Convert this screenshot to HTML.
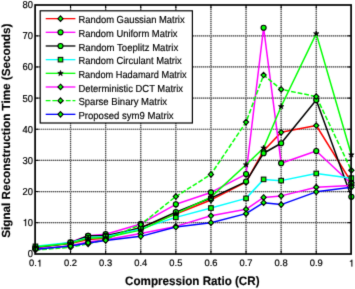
<!DOCTYPE html><html><head><meta charset="utf-8"><style>html,body{margin:0;padding:0;background:#fff;width:355px;height:289px;overflow:hidden}</style></head><body><svg xmlns="http://www.w3.org/2000/svg" width="355" height="289" viewBox="0 0 355 289" style="position:absolute;left:0;top:0">
<defs><filter id="bl" x="0" y="0" width="355" height="289" color-interpolation-filters="sRGB" filterUnits="userSpaceOnUse"><feConvolveMatrix order="3" kernelMatrix="0.0183 0.1353 0.0183 0.1353 1 0.1353 0.0183 0.1353 0.0183" edgeMode="duplicate" preserveAlpha="true"/></filter></defs>
<g filter="url(#bl)">
<rect width="355" height="289" fill="#fff"/>
<style>text{stroke:#000;stroke-width:0.15px;text-rendering:geometricPrecision}.tk{stroke-width:0.2px}</style>
<line x1="70.55" y1="5.0" x2="70.55" y2="254.0" stroke="#b0b0b0" stroke-width="1.2"/>
<line x1="70.55" y1="5.0" x2="70.55" y2="254.0" stroke="#4a4a4a" stroke-width="1.2" stroke-dasharray="1 1"/>
<line x1="105.65" y1="5.0" x2="105.65" y2="254.0" stroke="#b0b0b0" stroke-width="1.2"/>
<line x1="105.65" y1="5.0" x2="105.65" y2="254.0" stroke="#4a4a4a" stroke-width="1.2" stroke-dasharray="1 1"/>
<line x1="140.75" y1="5.0" x2="140.75" y2="254.0" stroke="#b0b0b0" stroke-width="1.2"/>
<line x1="140.75" y1="5.0" x2="140.75" y2="254.0" stroke="#4a4a4a" stroke-width="1.2" stroke-dasharray="1 1"/>
<line x1="175.85" y1="5.0" x2="175.85" y2="254.0" stroke="#b0b0b0" stroke-width="1.2"/>
<line x1="175.85" y1="5.0" x2="175.85" y2="254.0" stroke="#4a4a4a" stroke-width="1.2" stroke-dasharray="1 1"/>
<line x1="210.95" y1="5.0" x2="210.95" y2="254.0" stroke="#b0b0b0" stroke-width="1.2"/>
<line x1="210.95" y1="5.0" x2="210.95" y2="254.0" stroke="#4a4a4a" stroke-width="1.2" stroke-dasharray="1 1"/>
<line x1="246.05" y1="5.0" x2="246.05" y2="254.0" stroke="#b0b0b0" stroke-width="1.2"/>
<line x1="246.05" y1="5.0" x2="246.05" y2="254.0" stroke="#4a4a4a" stroke-width="1.2" stroke-dasharray="1 1"/>
<line x1="281.15" y1="5.0" x2="281.15" y2="254.0" stroke="#b0b0b0" stroke-width="1.2"/>
<line x1="281.15" y1="5.0" x2="281.15" y2="254.0" stroke="#4a4a4a" stroke-width="1.2" stroke-dasharray="1 1"/>
<line x1="316.25" y1="5.0" x2="316.25" y2="254.0" stroke="#b0b0b0" stroke-width="1.2"/>
<line x1="316.25" y1="5.0" x2="316.25" y2="254.0" stroke="#4a4a4a" stroke-width="1.2" stroke-dasharray="1 1"/>
<line x1="35.1" y1="222.66" x2="351.1" y2="222.66" stroke="#b0b0b0" stroke-width="1.2"/>
<line x1="35.1" y1="222.66" x2="351.1" y2="222.66" stroke="#4a4a4a" stroke-width="1.2" stroke-dasharray="1 1"/>
<line x1="35.1" y1="191.53" x2="351.1" y2="191.53" stroke="#b0b0b0" stroke-width="1.2"/>
<line x1="35.1" y1="191.53" x2="351.1" y2="191.53" stroke="#4a4a4a" stroke-width="1.2" stroke-dasharray="1 1"/>
<line x1="35.1" y1="160.39" x2="351.1" y2="160.39" stroke="#b0b0b0" stroke-width="1.2"/>
<line x1="35.1" y1="160.39" x2="351.1" y2="160.39" stroke="#4a4a4a" stroke-width="1.2" stroke-dasharray="1 1"/>
<line x1="35.1" y1="129.25" x2="351.1" y2="129.25" stroke="#b0b0b0" stroke-width="1.2"/>
<line x1="35.1" y1="129.25" x2="351.1" y2="129.25" stroke="#4a4a4a" stroke-width="1.2" stroke-dasharray="1 1"/>
<line x1="35.1" y1="98.11" x2="351.1" y2="98.11" stroke="#b0b0b0" stroke-width="1.2"/>
<line x1="35.1" y1="98.11" x2="351.1" y2="98.11" stroke="#4a4a4a" stroke-width="1.2" stroke-dasharray="1 1"/>
<line x1="35.1" y1="66.97" x2="351.1" y2="66.97" stroke="#b0b0b0" stroke-width="1.2"/>
<line x1="35.1" y1="66.97" x2="351.1" y2="66.97" stroke="#4a4a4a" stroke-width="1.2" stroke-dasharray="1 1"/>
<line x1="35.1" y1="35.84" x2="351.1" y2="35.84" stroke="#b0b0b0" stroke-width="1.2"/>
<line x1="35.1" y1="35.84" x2="351.1" y2="35.84" stroke="#4a4a4a" stroke-width="1.2" stroke-dasharray="1 1"/>
<line x1="70.55" y1="254.0" x2="70.55" y2="250.5" stroke="#000" stroke-width="1"/>
<line x1="70.55" y1="5.0" x2="70.55" y2="8.5" stroke="#000" stroke-width="1"/>
<line x1="105.65" y1="254.0" x2="105.65" y2="250.5" stroke="#000" stroke-width="1"/>
<line x1="105.65" y1="5.0" x2="105.65" y2="8.5" stroke="#000" stroke-width="1"/>
<line x1="140.75" y1="254.0" x2="140.75" y2="250.5" stroke="#000" stroke-width="1"/>
<line x1="140.75" y1="5.0" x2="140.75" y2="8.5" stroke="#000" stroke-width="1"/>
<line x1="175.85" y1="254.0" x2="175.85" y2="250.5" stroke="#000" stroke-width="1"/>
<line x1="175.85" y1="5.0" x2="175.85" y2="8.5" stroke="#000" stroke-width="1"/>
<line x1="210.95" y1="254.0" x2="210.95" y2="250.5" stroke="#000" stroke-width="1"/>
<line x1="210.95" y1="5.0" x2="210.95" y2="8.5" stroke="#000" stroke-width="1"/>
<line x1="246.05" y1="254.0" x2="246.05" y2="250.5" stroke="#000" stroke-width="1"/>
<line x1="246.05" y1="5.0" x2="246.05" y2="8.5" stroke="#000" stroke-width="1"/>
<line x1="281.15" y1="254.0" x2="281.15" y2="250.5" stroke="#000" stroke-width="1"/>
<line x1="281.15" y1="5.0" x2="281.15" y2="8.5" stroke="#000" stroke-width="1"/>
<line x1="316.25" y1="254.0" x2="316.25" y2="250.5" stroke="#000" stroke-width="1"/>
<line x1="316.25" y1="5.0" x2="316.25" y2="8.5" stroke="#000" stroke-width="1"/>
<line x1="35.1" y1="222.66" x2="38.6" y2="222.66" stroke="#000" stroke-width="1"/>
<line x1="351.1" y1="222.66" x2="347.6" y2="222.66" stroke="#000" stroke-width="1"/>
<line x1="35.1" y1="191.53" x2="38.6" y2="191.53" stroke="#000" stroke-width="1"/>
<line x1="351.1" y1="191.53" x2="347.6" y2="191.53" stroke="#000" stroke-width="1"/>
<line x1="35.1" y1="160.39" x2="38.6" y2="160.39" stroke="#000" stroke-width="1"/>
<line x1="351.1" y1="160.39" x2="347.6" y2="160.39" stroke="#000" stroke-width="1"/>
<line x1="35.1" y1="129.25" x2="38.6" y2="129.25" stroke="#000" stroke-width="1"/>
<line x1="351.1" y1="129.25" x2="347.6" y2="129.25" stroke="#000" stroke-width="1"/>
<line x1="35.1" y1="98.11" x2="38.6" y2="98.11" stroke="#000" stroke-width="1"/>
<line x1="351.1" y1="98.11" x2="347.6" y2="98.11" stroke="#000" stroke-width="1"/>
<line x1="35.1" y1="66.97" x2="38.6" y2="66.97" stroke="#000" stroke-width="1"/>
<line x1="351.1" y1="66.97" x2="347.6" y2="66.97" stroke="#000" stroke-width="1"/>
<line x1="35.1" y1="35.84" x2="38.6" y2="35.84" stroke="#000" stroke-width="1"/>
<line x1="351.1" y1="35.84" x2="347.6" y2="35.84" stroke="#000" stroke-width="1"/>
<polyline points="35.45,247.57 70.55,243.52 88.10,239.48 105.65,238.23 140.75,227.33 175.85,213.94 210.95,199.93 246.05,182.18 263.60,150.73 281.15,132.36 316.25,125.51 351.35,182.18" fill="none" stroke="#ff0000" stroke-width="1.5" stroke-linejoin="round"/>
<polyline points="35.45,248.20 70.55,242.28 88.10,235.74 105.65,234.18 140.75,223.91 175.85,204.29 210.95,192.46 246.05,174.09 263.60,27.74 281.15,163.19 316.25,151.05 351.35,183.74" fill="none" stroke="#ff00ff" stroke-width="1.5" stroke-linejoin="round"/>
<polyline points="35.45,247.26 70.55,242.90 88.10,235.74 105.65,235.74 140.75,227.96 175.85,212.08 210.95,198.06 246.05,181.56 263.60,153.23 281.15,143.26 316.25,99.98 351.35,196.82" fill="none" stroke="#000000" stroke-width="1.5" stroke-linejoin="round"/>
<polyline points="35.45,246.33 70.55,242.59 88.10,237.61 105.65,236.67 140.75,228.89 175.85,217.37 210.95,208.03 246.05,198.38 263.60,179.38 281.15,180.63 316.25,173.47 351.35,178.14" fill="none" stroke="#00ffff" stroke-width="1.5" stroke-linejoin="round"/>
<polyline points="35.45,246.95 70.55,243.21 88.10,238.23 105.65,237.61 140.75,230.14 175.85,213.63 210.95,197.13 246.05,164.75 263.60,147.93 281.15,106.52 316.25,33.66 351.35,154.78" fill="none" stroke="#00ff00" stroke-width="1.5" stroke-linejoin="round"/>
<polyline points="35.45,249.44 70.55,245.70 88.10,241.97 105.65,239.79 140.75,233.56 175.85,226.40 210.95,215.81 246.05,209.27 263.60,197.44 281.15,195.88 316.25,187.17 351.35,185.61" fill="none" stroke="#ff00ff" stroke-width="1.5" stroke-linejoin="round"/>
<polyline points="35.45,250.06 70.55,247.26 88.10,243.84 105.65,239.48 140.75,224.53 175.85,196.51 210.95,174.40 246.05,122.09 263.60,75.07 281.15,89.39 316.25,96.56 351.35,170.35" fill="none" stroke="#00ff00" stroke-width="1.5" stroke-dasharray="4.8 1.9" stroke-linejoin="round"/>
<polyline points="35.45,249.13 70.55,246.02 88.10,242.90 105.65,240.41 140.75,236.36 175.85,227.02 210.95,222.66 246.05,213.63 263.60,202.73 281.15,204.60 316.25,191.84 351.35,187.17" fill="none" stroke="#0000ff" stroke-width="1.5" stroke-linejoin="round"/>
<path d="M35.45 244.82L38.06 247.57L35.45 250.32L32.84 247.57Z" fill="#00ff00" stroke="#000" stroke-width="1.1"/>
<path d="M70.55 240.77L73.16 243.52L70.55 246.27L67.94 243.52Z" fill="#00ff00" stroke="#000" stroke-width="1.1"/>
<path d="M88.10 236.73L90.71 239.48L88.10 242.23L85.49 239.48Z" fill="#00ff00" stroke="#000" stroke-width="1.1"/>
<path d="M105.65 235.48L108.26 238.23L105.65 240.98L103.04 238.23Z" fill="#00ff00" stroke="#000" stroke-width="1.1"/>
<path d="M140.75 224.58L143.36 227.33L140.75 230.08L138.14 227.33Z" fill="#00ff00" stroke="#000" stroke-width="1.1"/>
<path d="M175.85 211.19L178.46 213.94L175.85 216.69L173.24 213.94Z" fill="#00ff00" stroke="#000" stroke-width="1.1"/>
<path d="M210.95 197.18L213.56 199.93L210.95 202.68L208.34 199.93Z" fill="#00ff00" stroke="#000" stroke-width="1.1"/>
<path d="M246.05 179.43L248.66 182.18L246.05 184.93L243.44 182.18Z" fill="#00ff00" stroke="#000" stroke-width="1.1"/>
<path d="M263.60 147.98L266.21 150.73L263.60 153.48L260.99 150.73Z" fill="#00ff00" stroke="#000" stroke-width="1.1"/>
<path d="M281.15 129.61L283.76 132.36L281.15 135.11L278.54 132.36Z" fill="#00ff00" stroke="#000" stroke-width="1.1"/>
<path d="M316.25 122.76L318.86 125.51L316.25 128.26L313.64 125.51Z" fill="#00ff00" stroke="#000" stroke-width="1.1"/>
<path d="M351.35 179.43L353.96 182.18L351.35 184.93L348.74 182.18Z" fill="#00ff00" stroke="#000" stroke-width="1.1"/>
<circle cx="35.45" cy="248.20" r="2.55" fill="#00ff00" stroke="#000" stroke-width="1.1"/>
<circle cx="70.55" cy="242.28" r="2.55" fill="#00ff00" stroke="#000" stroke-width="1.1"/>
<circle cx="88.10" cy="235.74" r="2.55" fill="#00ff00" stroke="#000" stroke-width="1.1"/>
<circle cx="105.65" cy="234.18" r="2.55" fill="#00ff00" stroke="#000" stroke-width="1.1"/>
<circle cx="140.75" cy="223.91" r="2.55" fill="#00ff00" stroke="#000" stroke-width="1.1"/>
<circle cx="175.85" cy="204.29" r="2.55" fill="#00ff00" stroke="#000" stroke-width="1.1"/>
<circle cx="210.95" cy="192.46" r="2.55" fill="#00ff00" stroke="#000" stroke-width="1.1"/>
<circle cx="246.05" cy="174.09" r="2.55" fill="#00ff00" stroke="#000" stroke-width="1.1"/>
<circle cx="263.60" cy="27.74" r="2.55" fill="#00ff00" stroke="#000" stroke-width="1.1"/>
<circle cx="281.15" cy="163.19" r="2.55" fill="#00ff00" stroke="#000" stroke-width="1.1"/>
<circle cx="316.25" cy="151.05" r="2.55" fill="#00ff00" stroke="#000" stroke-width="1.1"/>
<circle cx="351.35" cy="183.74" r="2.55" fill="#00ff00" stroke="#000" stroke-width="1.1"/>
<circle cx="35.45" cy="247.26" r="2.55" fill="#00ff00" stroke="#000" stroke-width="1.1"/>
<circle cx="70.55" cy="242.90" r="2.55" fill="#00ff00" stroke="#000" stroke-width="1.1"/>
<circle cx="88.10" cy="235.74" r="2.55" fill="#00ff00" stroke="#000" stroke-width="1.1"/>
<circle cx="105.65" cy="235.74" r="2.55" fill="#00ff00" stroke="#000" stroke-width="1.1"/>
<circle cx="140.75" cy="227.96" r="2.55" fill="#00ff00" stroke="#000" stroke-width="1.1"/>
<circle cx="175.85" cy="212.08" r="2.55" fill="#00ff00" stroke="#000" stroke-width="1.1"/>
<circle cx="210.95" cy="198.06" r="2.55" fill="#00ff00" stroke="#000" stroke-width="1.1"/>
<circle cx="246.05" cy="181.56" r="2.55" fill="#00ff00" stroke="#000" stroke-width="1.1"/>
<circle cx="263.60" cy="153.23" r="2.55" fill="#00ff00" stroke="#000" stroke-width="1.1"/>
<circle cx="281.15" cy="143.26" r="2.55" fill="#00ff00" stroke="#000" stroke-width="1.1"/>
<circle cx="316.25" cy="99.98" r="2.55" fill="#00ff00" stroke="#000" stroke-width="1.1"/>
<circle cx="351.35" cy="196.82" r="2.55" fill="#00ff00" stroke="#000" stroke-width="1.1"/>
<rect x="33.15" y="244.03" width="4.6" height="4.6" fill="#00ff00" stroke="#000" stroke-width="1"/>
<rect x="68.25" y="240.29" width="4.6" height="4.6" fill="#00ff00" stroke="#000" stroke-width="1"/>
<rect x="85.80" y="235.31" width="4.6" height="4.6" fill="#00ff00" stroke="#000" stroke-width="1"/>
<rect x="103.35" y="234.37" width="4.6" height="4.6" fill="#00ff00" stroke="#000" stroke-width="1"/>
<rect x="138.45" y="226.59" width="4.6" height="4.6" fill="#00ff00" stroke="#000" stroke-width="1"/>
<rect x="173.55" y="215.07" width="4.6" height="4.6" fill="#00ff00" stroke="#000" stroke-width="1"/>
<rect x="208.65" y="205.73" width="4.6" height="4.6" fill="#00ff00" stroke="#000" stroke-width="1"/>
<rect x="243.75" y="196.08" width="4.6" height="4.6" fill="#00ff00" stroke="#000" stroke-width="1"/>
<rect x="261.30" y="177.08" width="4.6" height="4.6" fill="#00ff00" stroke="#000" stroke-width="1"/>
<rect x="278.85" y="178.33" width="4.6" height="4.6" fill="#00ff00" stroke="#000" stroke-width="1"/>
<rect x="313.95" y="171.17" width="4.6" height="4.6" fill="#00ff00" stroke="#000" stroke-width="1"/>
<rect x="349.05" y="175.84" width="4.6" height="4.6" fill="#00ff00" stroke="#000" stroke-width="1"/>
<polygon points="35.45,244.05 36.16,245.98 38.21,246.05 36.59,247.32 37.15,249.30 35.45,248.15 33.75,249.30 34.31,247.32 32.69,246.05 34.74,245.98" fill="#000" stroke="#000" stroke-width="0.6"/>
<polygon points="70.55,240.31 71.26,242.24 73.31,242.32 71.69,243.58 72.25,245.56 70.55,244.41 68.85,245.56 69.41,243.58 67.79,242.32 69.84,242.24" fill="#000" stroke="#000" stroke-width="0.6"/>
<polygon points="88.10,235.33 88.81,237.26 90.86,237.34 89.24,238.60 89.80,240.58 88.10,239.43 86.40,240.58 86.96,238.60 85.34,237.34 87.39,237.26" fill="#000" stroke="#000" stroke-width="0.6"/>
<polygon points="105.65,234.71 106.36,236.64 108.41,236.71 106.79,237.98 107.35,239.95 105.65,238.81 103.95,239.95 104.51,237.98 102.89,236.71 104.94,236.64" fill="#000" stroke="#000" stroke-width="0.6"/>
<polygon points="140.75,227.24 141.46,229.16 143.51,229.24 141.89,230.51 142.45,232.48 140.75,231.34 139.05,232.48 139.61,230.51 137.99,229.24 140.04,229.16" fill="#000" stroke="#000" stroke-width="0.6"/>
<polygon points="175.85,210.73 176.56,212.66 178.61,212.74 176.99,214.00 177.55,215.98 175.85,214.83 174.15,215.98 174.71,214.00 173.09,212.74 175.14,212.66" fill="#000" stroke="#000" stroke-width="0.6"/>
<polygon points="210.95,194.23 211.66,196.16 213.71,196.23 212.09,197.50 212.65,199.48 210.95,198.33 209.25,199.48 209.81,197.50 208.19,196.23 210.24,196.16" fill="#000" stroke="#000" stroke-width="0.6"/>
<polygon points="246.05,161.85 246.76,163.78 248.81,163.85 247.19,165.12 247.75,167.09 246.05,165.95 244.35,167.09 244.91,165.12 243.29,163.85 245.34,163.78" fill="#000" stroke="#000" stroke-width="0.6"/>
<polygon points="263.60,145.03 264.31,146.96 266.36,147.04 264.74,148.30 265.30,150.28 263.60,149.13 261.90,150.28 262.46,148.30 260.84,147.04 262.89,146.96" fill="#000" stroke="#000" stroke-width="0.6"/>
<polygon points="281.15,103.62 281.86,105.55 283.91,105.62 282.29,106.89 282.85,108.87 281.15,107.72 279.45,108.87 280.01,106.89 278.39,105.62 280.44,105.55" fill="#000" stroke="#000" stroke-width="0.6"/>
<polygon points="316.25,30.76 316.96,32.69 319.01,32.76 317.39,34.03 317.95,36.00 316.25,34.86 314.55,36.00 315.11,34.03 313.49,32.76 315.54,32.69" fill="#000" stroke="#000" stroke-width="0.6"/>
<polygon points="351.35,151.88 352.06,153.81 354.11,153.89 352.49,155.15 353.05,157.13 351.35,155.98 349.65,157.13 350.21,155.15 348.59,153.89 350.64,153.81" fill="#000" stroke="#000" stroke-width="0.6"/>
<path d="M35.45 246.69L38.06 249.44L35.45 252.19L32.84 249.44Z" fill="#00ff00" stroke="#000" stroke-width="1.1"/>
<path d="M70.55 242.95L73.16 245.70L70.55 248.45L67.94 245.70Z" fill="#00ff00" stroke="#000" stroke-width="1.1"/>
<path d="M88.10 239.22L90.71 241.97L88.10 244.72L85.49 241.97Z" fill="#00ff00" stroke="#000" stroke-width="1.1"/>
<path d="M105.65 237.04L108.26 239.79L105.65 242.54L103.04 239.79Z" fill="#00ff00" stroke="#000" stroke-width="1.1"/>
<path d="M140.75 230.81L143.36 233.56L140.75 236.31L138.14 233.56Z" fill="#00ff00" stroke="#000" stroke-width="1.1"/>
<path d="M175.85 223.65L178.46 226.40L175.85 229.15L173.24 226.40Z" fill="#00ff00" stroke="#000" stroke-width="1.1"/>
<path d="M210.95 213.06L213.56 215.81L210.95 218.56L208.34 215.81Z" fill="#00ff00" stroke="#000" stroke-width="1.1"/>
<path d="M246.05 206.52L248.66 209.27L246.05 212.02L243.44 209.27Z" fill="#00ff00" stroke="#000" stroke-width="1.1"/>
<path d="M263.60 194.69L266.21 197.44L263.60 200.19L260.99 197.44Z" fill="#00ff00" stroke="#000" stroke-width="1.1"/>
<path d="M281.15 193.13L283.76 195.88L281.15 198.63L278.54 195.88Z" fill="#00ff00" stroke="#000" stroke-width="1.1"/>
<path d="M316.25 184.42L318.86 187.17L316.25 189.92L313.64 187.17Z" fill="#00ff00" stroke="#000" stroke-width="1.1"/>
<path d="M351.35 182.86L353.96 185.61L351.35 188.36L348.74 185.61Z" fill="#00ff00" stroke="#000" stroke-width="1.1"/>
<path d="M35.45 247.31L38.06 250.06L35.45 252.81L32.84 250.06Z" fill="#00ff00" stroke="#000" stroke-width="1.1"/>
<path d="M70.55 244.51L73.16 247.26L70.55 250.01L67.94 247.26Z" fill="#00ff00" stroke="#000" stroke-width="1.1"/>
<path d="M88.10 241.09L90.71 243.84L88.10 246.59L85.49 243.84Z" fill="#00ff00" stroke="#000" stroke-width="1.1"/>
<path d="M105.65 236.73L108.26 239.48L105.65 242.23L103.04 239.48Z" fill="#00ff00" stroke="#000" stroke-width="1.1"/>
<path d="M140.75 221.78L143.36 224.53L140.75 227.28L138.14 224.53Z" fill="#00ff00" stroke="#000" stroke-width="1.1"/>
<path d="M175.85 193.76L178.46 196.51L175.85 199.26L173.24 196.51Z" fill="#00ff00" stroke="#000" stroke-width="1.1"/>
<path d="M210.95 171.65L213.56 174.40L210.95 177.15L208.34 174.40Z" fill="#00ff00" stroke="#000" stroke-width="1.1"/>
<path d="M246.05 119.34L248.66 122.09L246.05 124.84L243.44 122.09Z" fill="#00ff00" stroke="#000" stroke-width="1.1"/>
<path d="M263.60 72.32L266.21 75.07L263.60 77.82L260.99 75.07Z" fill="#00ff00" stroke="#000" stroke-width="1.1"/>
<path d="M281.15 86.64L283.76 89.39L281.15 92.14L278.54 89.39Z" fill="#00ff00" stroke="#000" stroke-width="1.1"/>
<path d="M316.25 93.81L318.86 96.56L316.25 99.31L313.64 96.56Z" fill="#00ff00" stroke="#000" stroke-width="1.1"/>
<path d="M351.35 167.60L353.96 170.35L351.35 173.10L348.74 170.35Z" fill="#00ff00" stroke="#000" stroke-width="1.1"/>
<path d="M35.45 246.38L38.06 249.13L35.45 251.88L32.84 249.13Z" fill="#00ff00" stroke="#000" stroke-width="1.1"/>
<path d="M70.55 243.27L73.16 246.02L70.55 248.77L67.94 246.02Z" fill="#00ff00" stroke="#000" stroke-width="1.1"/>
<path d="M88.10 240.15L90.71 242.90L88.10 245.65L85.49 242.90Z" fill="#00ff00" stroke="#000" stroke-width="1.1"/>
<path d="M105.65 237.66L108.26 240.41L105.65 243.16L103.04 240.41Z" fill="#00ff00" stroke="#000" stroke-width="1.1"/>
<path d="M140.75 233.61L143.36 236.36L140.75 239.11L138.14 236.36Z" fill="#00ff00" stroke="#000" stroke-width="1.1"/>
<path d="M175.85 224.27L178.46 227.02L175.85 229.77L173.24 227.02Z" fill="#00ff00" stroke="#000" stroke-width="1.1"/>
<path d="M210.95 219.91L213.56 222.66L210.95 225.41L208.34 222.66Z" fill="#00ff00" stroke="#000" stroke-width="1.1"/>
<path d="M246.05 210.88L248.66 213.63L246.05 216.38L243.44 213.63Z" fill="#00ff00" stroke="#000" stroke-width="1.1"/>
<path d="M263.60 199.98L266.21 202.73L263.60 205.48L260.99 202.73Z" fill="#00ff00" stroke="#000" stroke-width="1.1"/>
<path d="M281.15 201.85L283.76 204.60L281.15 207.35L278.54 204.60Z" fill="#00ff00" stroke="#000" stroke-width="1.1"/>
<path d="M316.25 189.09L318.86 191.84L316.25 194.59L313.64 191.84Z" fill="#00ff00" stroke="#000" stroke-width="1.1"/>
<path d="M351.35 184.42L353.96 187.17L351.35 189.92L348.74 187.17Z" fill="#00ff00" stroke="#000" stroke-width="1.1"/>
<rect x="35.1" y="5.0" width="316.00" height="249.00" fill="none" stroke="#000" stroke-width="1.7"/>
<rect x="40.2" y="10.8" width="152.20" height="112.20" fill="#fff" stroke="#000" stroke-width="1.2"/>
<line x1="45.7" y1="18.64" x2="75.4" y2="18.64" stroke="#ff0000" stroke-width="1.3"/>
<path d="M60.50 15.89L63.11 18.64L60.50 21.39L57.89 18.64Z" fill="#00ff00" stroke="#000" stroke-width="1.1"/>
<text transform="translate(78.4,23.24) scale(0.991,1.07)" font-family="Liberation Sans" font-size="9.5" fill="#000">Random Gaussian Matrix</text>
<line x1="45.7" y1="32.31" x2="75.4" y2="32.31" stroke="#ff00ff" stroke-width="1.3"/>
<circle cx="60.50" cy="32.31" r="2.55" fill="#00ff00" stroke="#000" stroke-width="1.1"/>
<text transform="translate(78.4,36.91) scale(0.987,1.07)" font-family="Liberation Sans" font-size="9.5" fill="#000">Random Uniform Matrix</text>
<line x1="45.7" y1="45.98" x2="75.4" y2="45.98" stroke="#000000" stroke-width="1.3"/>
<circle cx="60.50" cy="45.98" r="2.55" fill="#00ff00" stroke="#000" stroke-width="1.1"/>
<text transform="translate(78.4,50.58) scale(1.007,1.07)" font-family="Liberation Sans" font-size="9.5" fill="#000">Random Toeplitz Matrix</text>
<line x1="45.7" y1="59.65" x2="75.4" y2="59.65" stroke="#00ffff" stroke-width="1.3"/>
<rect x="58.20" y="57.35" width="4.6" height="4.6" fill="#00ff00" stroke="#000" stroke-width="1"/>
<text transform="translate(78.4,64.25) scale(0.988,1.07)" font-family="Liberation Sans" font-size="9.5" fill="#000">Random Circulant Matrix</text>
<line x1="45.7" y1="73.32" x2="75.4" y2="73.32" stroke="#00ff00" stroke-width="1.3"/>
<polygon points="60.50,70.42 61.21,72.35 63.26,72.42 61.64,73.69 62.20,75.67 60.50,74.52 58.80,75.67 59.36,73.69 57.74,72.42 59.79,72.35" fill="#000" stroke="#000" stroke-width="0.6"/>
<text transform="translate(78.4,77.92) scale(0.971,1.07)" font-family="Liberation Sans" font-size="9.5" fill="#000">Random Hadamard Matrix</text>
<line x1="45.7" y1="86.99" x2="75.4" y2="86.99" stroke="#ff00ff" stroke-width="1.3"/>
<path d="M60.50 84.24L63.11 86.99L60.50 89.74L57.89 86.99Z" fill="#00ff00" stroke="#000" stroke-width="1.1"/>
<text transform="translate(78.4,91.59) scale(0.993,1.07)" font-family="Liberation Sans" font-size="9.5" fill="#000">Deterministic DCT Matrix</text>
<line x1="45.7" y1="100.66" x2="75.4" y2="100.66" stroke="#00ff00" stroke-width="1.3" stroke-dasharray="4.8 1.9"/>
<path d="M60.50 97.91L63.11 100.66L60.50 103.41L57.89 100.66Z" fill="#00ff00" stroke="#000" stroke-width="1.1"/>
<text transform="translate(78.4,105.26) scale(1.006,1.07)" font-family="Liberation Sans" font-size="9.5" fill="#000">Sparse Binary Matrix</text>
<line x1="45.7" y1="114.33" x2="75.4" y2="114.33" stroke="#0000ff" stroke-width="1.3"/>
<path d="M60.50 111.58L63.11 114.33L60.50 117.08L57.89 114.33Z" fill="#00ff00" stroke="#000" stroke-width="1.1"/>
<text transform="translate(78.4,118.93) scale(1.007,1.07)" font-family="Liberation Sans" font-size="9.5" fill="#000">Proposed sym9 Matrix</text>
<text class="tk" transform="translate(28.92,266.40) scale(1,1.0)" font-family="Liberation Sans" font-size="9.4" fill="#000">0.</text>
<path d="M39.48 266.40 L40.31 266.40 L40.31 259.74 L39.63 259.74 L39.48 260.20 L39.22 260.57 L38.78 260.84 L37.93 260.95 L37.93 261.53 L39.48 261.53 Z" fill="#000" stroke="#000" stroke-width="0.2"/>
<text class="tk" transform="translate(64.02,266.40) scale(1,1.0)" font-family="Liberation Sans" font-size="9.4" fill="#000">0.2</text>
<text class="tk" transform="translate(99.12,266.40) scale(1,1.0)" font-family="Liberation Sans" font-size="9.4" fill="#000">0.3</text>
<text class="tk" transform="translate(134.22,266.40) scale(1,1.0)" font-family="Liberation Sans" font-size="9.4" fill="#000">0.4</text>
<text class="tk" transform="translate(169.32,266.40) scale(1,1.0)" font-family="Liberation Sans" font-size="9.4" fill="#000">0.5</text>
<text class="tk" transform="translate(204.42,266.40) scale(1,1.0)" font-family="Liberation Sans" font-size="9.4" fill="#000">0.6</text>
<text class="tk" transform="translate(239.52,266.40) scale(1,1.0)" font-family="Liberation Sans" font-size="9.4" fill="#000">0.7</text>
<text class="tk" transform="translate(274.62,266.40) scale(1,1.0)" font-family="Liberation Sans" font-size="9.4" fill="#000">0.8</text>
<text class="tk" transform="translate(309.72,266.40) scale(1,1.0)" font-family="Liberation Sans" font-size="9.4" fill="#000">0.9</text>
<path d="M351.46 266.40 L352.29 266.40 L352.29 259.74 L351.61 259.74 L351.46 260.20 L351.20 260.57 L350.76 260.84 L349.91 260.95 L349.91 261.53 L351.46 261.53 Z" fill="#000" stroke="#000" stroke-width="0.2"/>
<text class="tk" transform="translate(27.77,257.20) scale(1,1.07)" font-family="Liberation Sans" font-size="9.4" fill="#000">0</text>
<path d="M25.27 226.06 L26.10 226.06 L26.10 218.93 L25.42 218.93 L25.27 219.42 L25.01 219.83 L24.57 220.11 L23.72 220.23 L23.72 220.85 L25.27 220.85 Z" fill="#000" stroke="#000" stroke-width="0.2"/>
<text class="tk" transform="translate(27.77,226.06) scale(1,1.07)" font-family="Liberation Sans" font-size="9.4" fill="#000">0</text>
<text class="tk" transform="translate(22.55,194.93) scale(1,1.07)" font-family="Liberation Sans" font-size="9.4" fill="#000">20</text>
<text class="tk" transform="translate(22.55,163.79) scale(1,1.07)" font-family="Liberation Sans" font-size="9.4" fill="#000">30</text>
<text class="tk" transform="translate(22.55,132.65) scale(1,1.07)" font-family="Liberation Sans" font-size="9.4" fill="#000">40</text>
<text class="tk" transform="translate(22.55,101.51) scale(1,1.07)" font-family="Liberation Sans" font-size="9.4" fill="#000">50</text>
<text class="tk" transform="translate(22.55,70.38) scale(1,1.07)" font-family="Liberation Sans" font-size="9.4" fill="#000">60</text>
<text class="tk" transform="translate(22.55,39.24) scale(1,1.07)" font-family="Liberation Sans" font-size="9.4" fill="#000">70</text>
<text class="tk" transform="translate(22.55,8.10) scale(1,1.07)" font-family="Liberation Sans" font-size="9.4" fill="#000">80</text>
<text transform="translate(192.3,284.8) scale(1,1.05)" font-family="Liberation Sans" font-weight="bold" font-size="11.65" text-anchor="middle" fill="#000">Compression Ratio (CR)</text>
<text transform="translate(10.2,130.7) rotate(-90)" x="0" y="0" font-family="Liberation Sans" font-weight="bold" font-size="11.7" text-anchor="middle" fill="#000">Signal Reconstruction Time (Seconds)</text>
</g>
</svg></body></html>
